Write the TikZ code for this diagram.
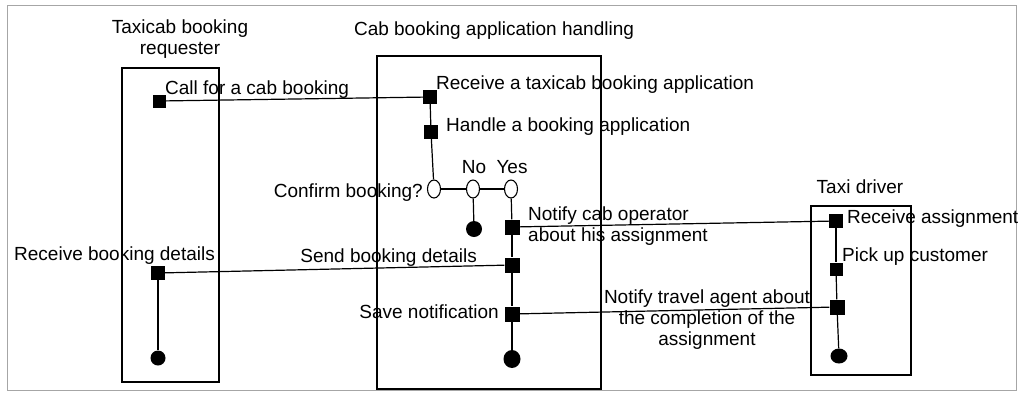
\documentclass[tikz,border=0pt]{standalone}
\usepackage{fontspec}
\setmainfont{Liberation Sans}
\usetikzlibrary{shapes.geometric}
\begin{document}
\begin{tikzpicture}[x=1pt,y=-1pt,
  every node/.style={font=\fontsize{19}{21}\selectfont, inner sep=0pt},
  act/.style={rectangle, fill=black, minimum size=14pt},
  dec/.style={ellipse, draw=black, line width=1.1pt, fill=white, minimum width=13pt, minimum height=18pt},
  fin/.style={ellipse, fill=black, minimum width=16pt, minimum height=16pt},
  lane/.style={draw=black, line width=1.6pt},
  flow/.style={draw=black, line width=1.2pt},
  lbl/.style={text=black}]
\useasboundingbox (0,0) rectangle (1019,392);
\draw[gray!70, line width=1pt] (7,5) rectangle (1016,390);
% lanes
\draw[lane] (122,68) rectangle (219,382);
\draw[lane] (377,56) rectangle (601,389);
\draw[lane] (811,206) rectangle (911,375);
\node[lbl, align=center, anchor=base] (tLeft) at (180,54) {Taxicab booking\\requester};
\node[lbl, anchor=base] (tMid) at (494,35) {Cab booking application handling};
\node[lbl, anchor=base] (tRight) at (860,193) {Taxi driver};
% left lane nodes
\node[act, minimum size=13pt] (call) at (159,101) {};
\node[act] (rbd) at (158,273) {};
\node[fin, minimum width=15pt, minimum height=15pt] (endL) at (158,358) {};
% middle lane nodes
\node[act] (rcv) at (430,97) {};
\node[act] (hdl) at (431,132) {};
\node[dec] (d1) at (434,189) {};
\node[dec] (d2) at (473,189) {};
\node[dec] (d3) at (511,189) {};
\node[fin] (endNo) at (474,229) {};
\node[act, minimum size=15pt] (ncab) at (512,227) {};
\node[act, minimum size=15pt] (send) at (512,265) {};
\node[act, minimum size=15pt] (save) at (512,314) {};
\node[fin, minimum width=17pt, minimum height=18pt] (endM) at (512,359) {};
% right lane nodes
\node[act] (rass) at (836,221) {};
\node[act, minimum size=13pt] (pick) at (836,269) {};
\node[act, minimum size=15pt] (ntr) at (837,307) {};
\node[fin, minimum width=17pt, minimum height=15pt] (endR) at (839,356) {};
% labels
\node[lbl, anchor=base west] (lCall) at (165,94) {Call for a cab booking};
\node[lbl, anchor=base west] (lRcv) at (436,89) {Receive a taxicab booking application};
\node[lbl, anchor=base west] (lHdl) at (446,131) {Handle a booking application};
\node[lbl, anchor=base east] (lConf) at (423,197) {Confirm booking?};
\node[lbl, anchor=base] (lNo) at (474,173) {No};
\node[lbl, anchor=base] (lYes) at (512,173) {Yes};
\node[lbl, anchor=base west, align=left] (lNcab) at (528,241) {Notify cab operator\\about his assignment};
\node[lbl, anchor=base east] (lSend) at (477,262) {Send booking details};
\node[lbl, anchor=base east] (lSave) at (499,318) {Save notification};
\node[lbl, anchor=base, align=center] (lNtr) at (707,345) {Notify travel agent about\\the completion of the\\assignment};
\node[lbl, anchor=base west] (lRbd) at (14,260) {Receive booking details};
\node[lbl, anchor=base west] (lRass) at (847,223) {Receive assignment};
\node[lbl, anchor=base west] (lPick) at (842,261) {Pick up customer};
% connectors
\draw[flow] (call) -- (rcv);
\draw[flow] (rbd) -- (send);
\draw[flow] (ncab) -- (rass);
\draw[flow] (save) -- (ntr);
\draw[flow] (rbd) -- (endL);
\draw[flow] (rcv) -- (hdl);
\draw[flow] (hdl) -- (d1);
\draw[flow] (d1) -- (d2);
\draw[flow] (d2) -- (d3);
\draw[flow] (d2) -- (endNo);
\draw[flow] (d3) -- (ncab);
\draw[flow] (ncab) -- (send);
\draw[flow] (send) -- (save);
\draw[flow] (save) -- (endM);
\draw[flow] (rass) -- (pick);
\draw[flow] (pick) -- (ntr);
\draw[flow] (ntr) -- (endR);
\end{tikzpicture}
\end{document}
